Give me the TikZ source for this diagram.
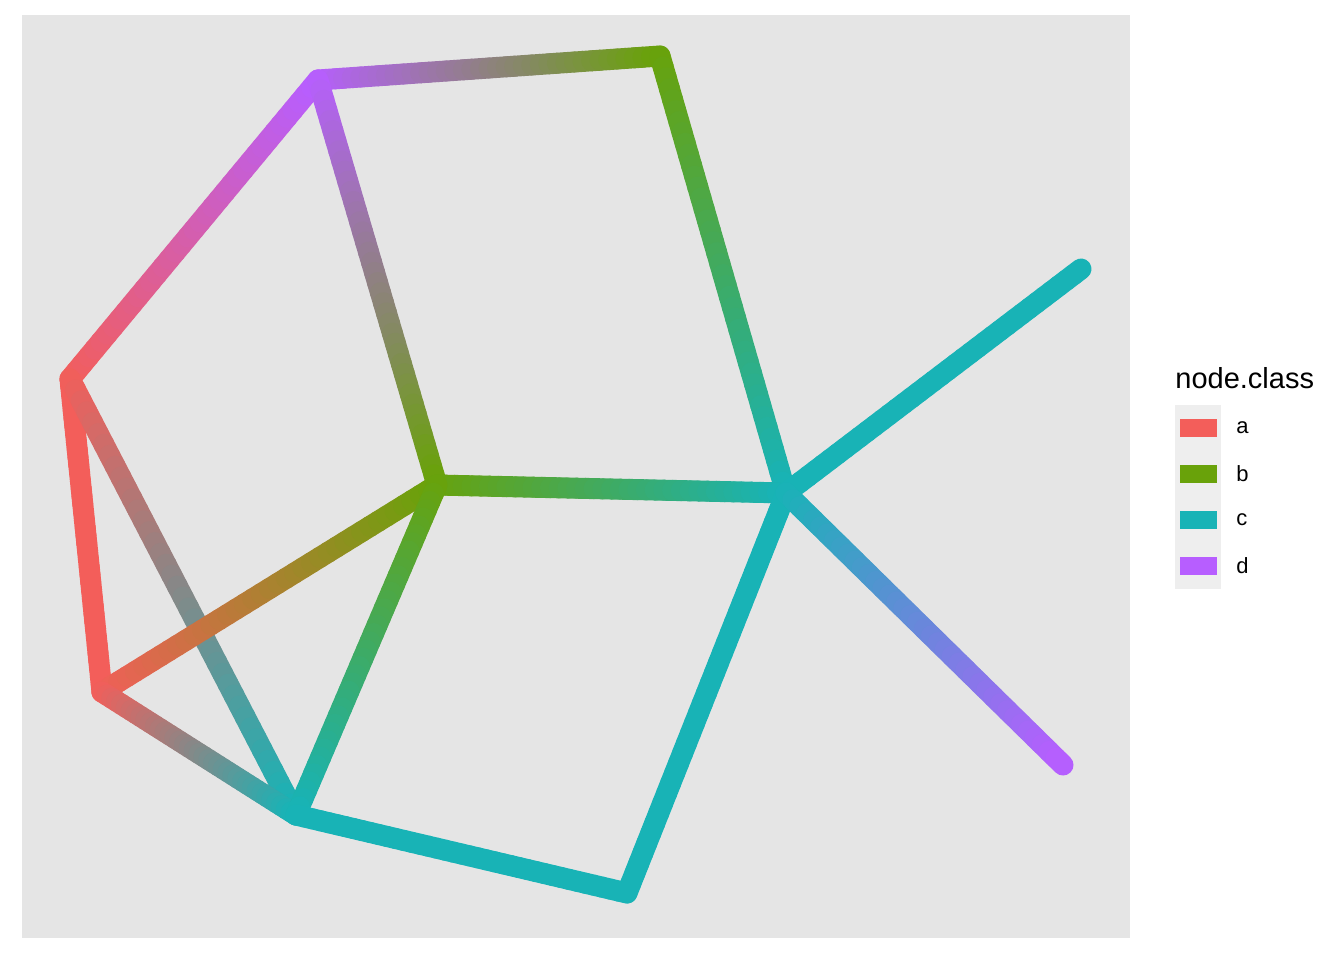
\documentclass[tikz,border=0pt]{standalone}
\usepackage{fontspec}
\setmainfont{Liberation Sans}
\usetikzlibrary{calc}
\definecolor{clsa}{HTML}{F35E5A}
\definecolor{clsb}{HTML}{69A20A}
\definecolor{clsc}{HTML}{18B3B6}
\definecolor{clsd}{HTML}{B75EFF}
\definecolor{panelgray}{HTML}{E5E5E5}
\definecolor{keygray}{HTML}{EEEEEE}
\tikzset{
  edgeseg/.style={line width=10.5pt, line cap=round},
  vert/.style={inner sep=0pt, minimum size=0pt},
  legkey/.style={minimum width=18.5pt, minimum height=9pt, inner sep=0pt},
  leglab/.style={anchor=west, inner sep=0pt, font=\fontsize{11}{13}\selectfont},
}
\begin{document}
\begin{tikzpicture}[x=0.5pt, y=-0.5pt]
  \useasboundingbox (0,0) rectangle (1344,960);
  \fill[panelgray] (22,15) rectangle (1130,938);
  % vertices
  \node[vert] (A) at (70,379) {};
  \node[vert] (B) at (102,692) {};
  \node[vert] (C) at (318,80) {};
  \node[vert] (D) at (660,56) {};
  \node[vert] (E) at (437,485) {};
  \node[vert] (F) at (786,493) {};
  \node[vert] (G) at (296,815) {};
  \node[vert] (H) at (627,893) {};
  \node[vert] (I) at (1081,269) {};
  \node[vert] (J) at (1063,765) {};
  % edges, colour runs from one end to the other
  \foreach \p/\q/\cp/\cq in {A/C/clsa/clsd, A/B/clsa/clsa, A/G/clsa/clsc,
      B/E/clsa/clsb, B/G/clsa/clsc, C/D/clsd/clsb, C/E/clsd/clsb,
      D/F/clsb/clsc, E/F/clsb/clsc, E/G/clsb/clsc, G/H/clsc/clsc,
      H/F/clsc/clsc, F/I/clsc/clsc, F/J/clsc/clsd}{
    \foreach \i in {1,...,40}{
      \pgfmathsetmacro\pct{(\i-0.5)*2.5}
      \draw[edgeseg, color=\cq!\pct!\cp]
        ($(\p)!{(\i-1)/40}!(\q)$) -- ($(\p)!{\i/40}!(\q)$);
    }
  }
  % legend
  \node[anchor=base west, inner sep=0pt, font=\fontsize{14.5}{17}\selectfont] (title) at (1175,388) {node.class};
  \fill[keygray] (1175,405) rectangle (1221,589);
  \foreach \c/\y/\l in {clsa/428/a, clsb/474/b, clsc/520/c, clsd/566/d}{
    \node[legkey, fill=\c] (key\l) at (1198,\y) {};
    \node[leglab] (lab\l) at (1236,\y) {\l};
  }
\end{tikzpicture}
\end{document}
